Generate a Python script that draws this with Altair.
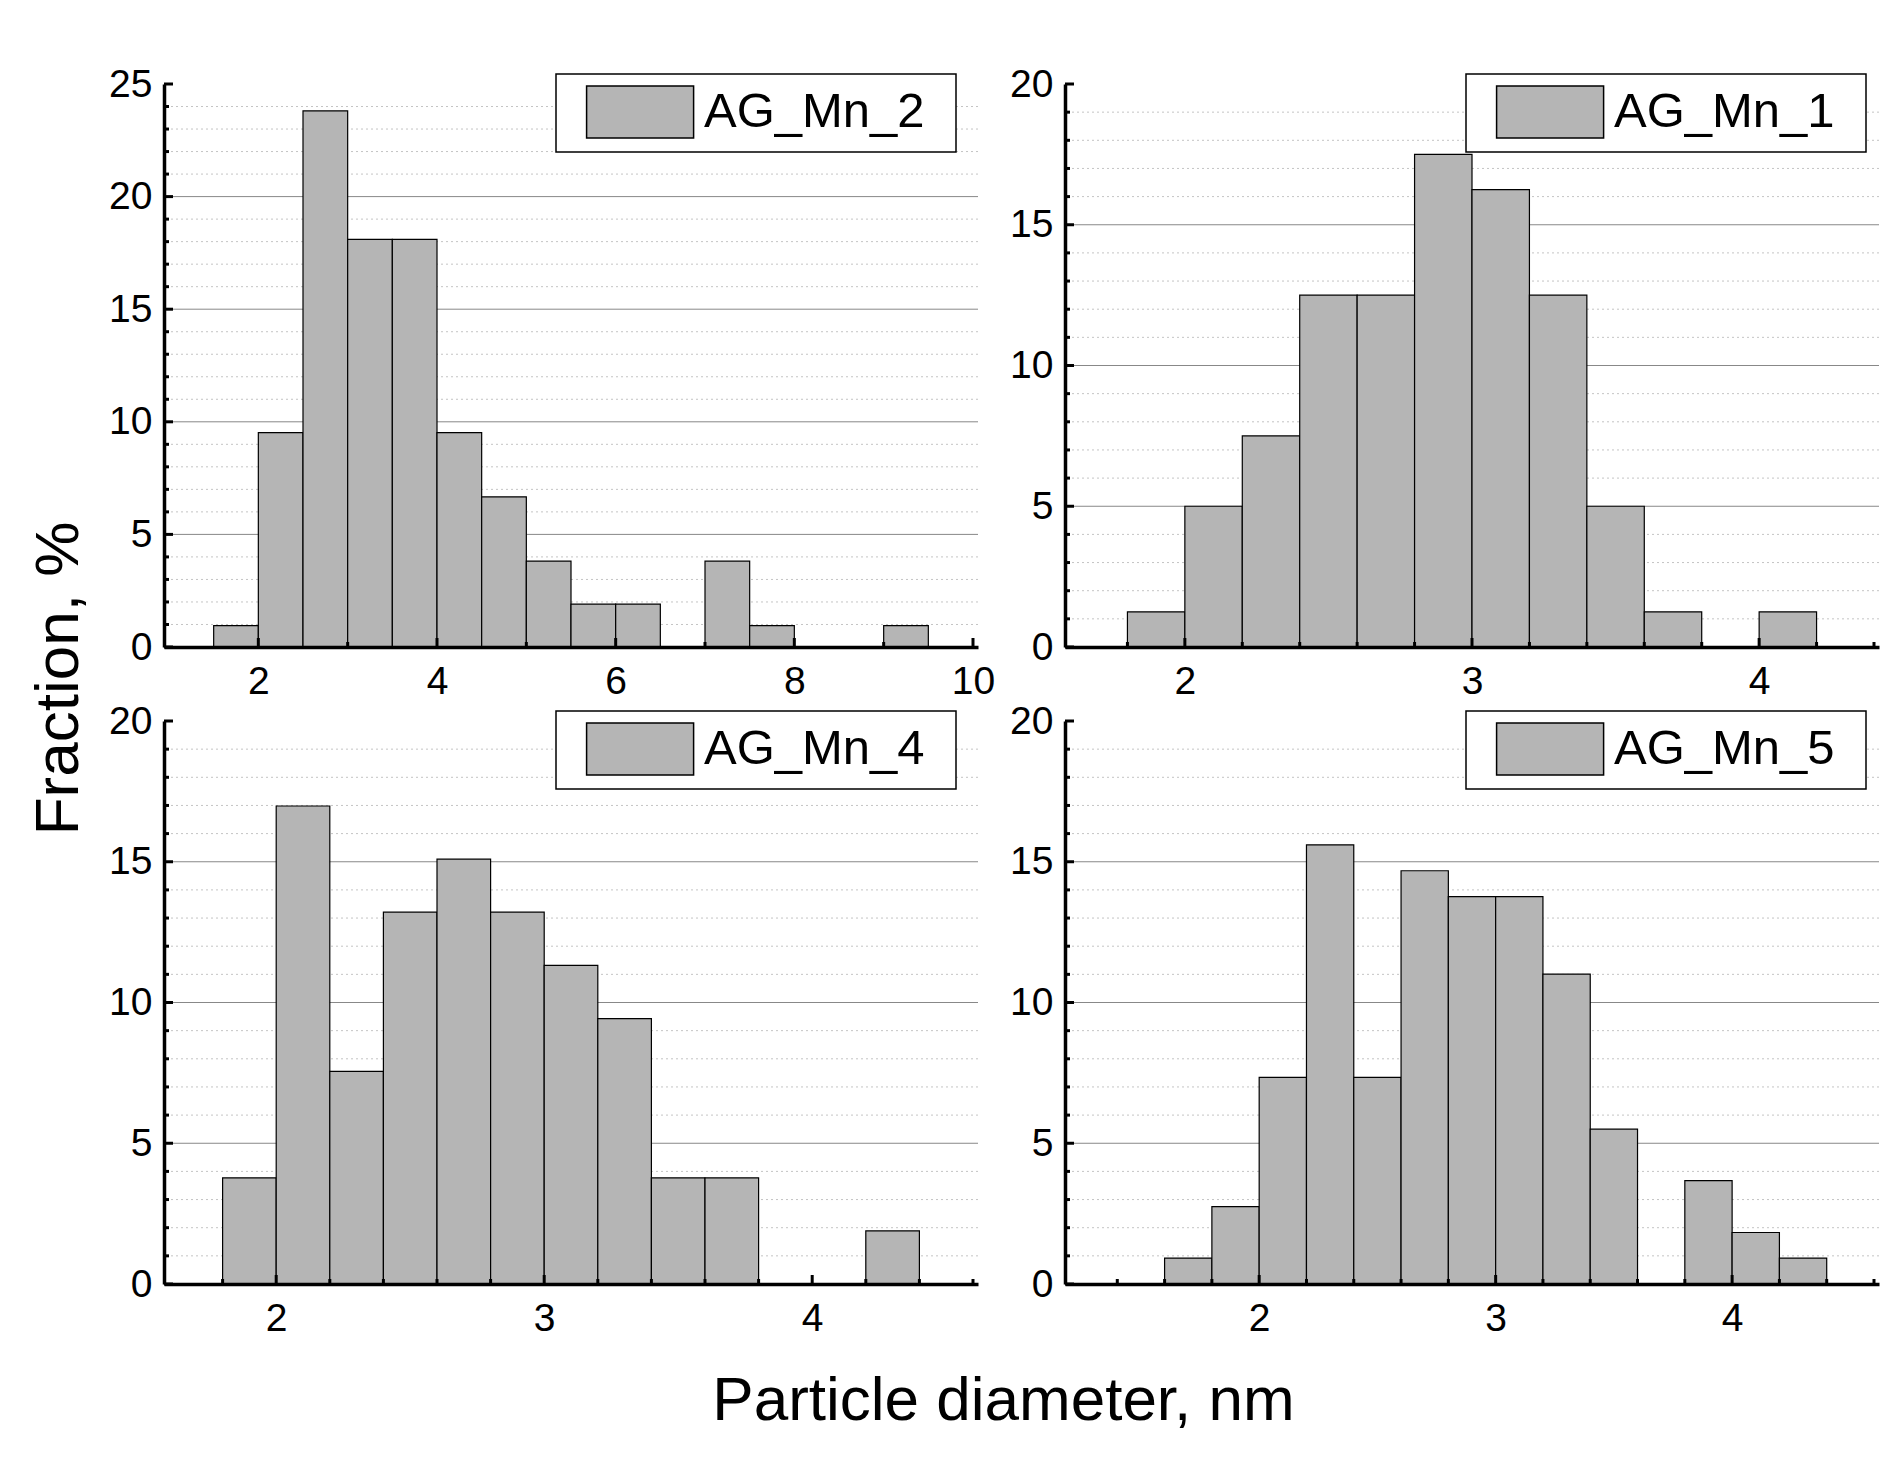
import altair as alt
import pandas as pd

FONT = "Liberation Sans, Arial, Helvetica, sans-serif"
BAR_FILL = "#b5b5b5"

# ---------------- data ----------------
# AG_Mn_2  (bin width 0.5 nm)
mn2_bin_left = [1.5, 2.0, 2.5, 3.0, 3.5, 4.0, 4.5, 5.0, 5.5, 6.0, 7.0, 7.5, 9.0]
mn2_fraction = [0.95, 9.52, 23.81, 18.10, 18.10, 9.52, 6.67, 3.81, 1.90, 1.90, 3.81, 0.95, 0.95]
mn2_bin_width = 0.5

# AG_Mn_1  (bin width 0.2 nm)
mn1_bin_left = [1.8, 2.0, 2.2, 2.4, 2.6, 2.8, 3.0, 3.2, 3.4, 3.6, 4.0]
mn1_fraction = [1.25, 5.0, 7.5, 12.5, 12.5, 17.5, 16.25, 12.5, 5.0, 1.25, 1.25]
mn1_bin_width = 0.2

# AG_Mn_4  (bin width 0.2 nm)
mn4_bin_left = [1.8, 2.0, 2.2, 2.4, 2.6, 2.8, 3.0, 3.2, 3.4, 3.6, 4.2]
mn4_fraction = [3.77, 16.98, 7.55, 13.21, 15.09, 13.21, 11.32, 9.43, 3.77, 3.77, 1.89]
mn4_bin_width = 0.2

# AG_Mn_5  (bin width 0.2 nm)
mn5_bin_left = [1.6, 1.8, 2.0, 2.2, 2.4, 2.6, 2.8, 3.0, 3.2, 3.4, 3.8, 4.0, 4.2]
mn5_fraction = [0.92, 2.75, 7.34, 15.60, 7.34, 14.68, 13.76, 13.76, 11.01, 5.50, 3.67, 1.83, 0.92]
mn5_bin_width = 0.2

# axis tick values
mn2_x_labels = [2, 4, 6, 8, 10]
mn2_x_minor = [3, 5, 7, 9]
short_x_labels = [2, 3, 4]
mn1_x_minor = [1.8, 2.2, 2.4, 2.6, 2.8, 3.2, 3.4, 3.6, 3.8, 4.2, 4.4]
mn4_x_minor = [1.8, 2.2, 2.4, 2.6, 2.8, 3.2, 3.4, 3.6, 3.8, 4.2, 4.4, 4.6]
mn5_x_minor = [1.4, 1.6, 1.8, 2.2, 2.4, 2.6, 2.8, 3.2, 3.4, 3.6, 3.8, 4.2, 4.4, 4.6]

y25_major = [0, 5, 10, 15, 20, 25]
y20_major = [0, 5, 10, 15, 20]
y25_minor = [v for v in range(1, 25) if v % 5]
y20_minor = [v for v in range(1, 20) if v % 5]

X_TITLE = "Particle diameter, nm"
Y_TITLE = "Fraction, %"

W, H = 814, 563

# legend swatch: 107 x 52 px rectangle (size 52^2 -> unit = 26 px); the trailing
# zero-length move only widens the legend frame on the right, it draws nothing.
SWATCH_PATH = "M-2.058,-1H2.058V1H-2.058Z M11.61,0Z"


def panel(name, lefts, fracs, bw, xdom, xlabels, xminor, ymax, ymajor, yminor, legx,
          with_titles=False):
    bars_df = pd.DataFrame({
        "left": lefts,
        "right": [round(l + bw, 3) for l in lefts],
        "fraction": fracs,
        "series": [name] * len(lefts),
    })
    xs = alt.Scale(domain=xdom, nice=False, zero=False)
    ys = alt.Scale(domain=[0, ymax], nice=False)

    if with_titles:
        x_title_kw = dict(title=X_TITLE, titleX=839, titleY=135, titleAlign="center",
                          titleBaseline="alphabetic", titleFont=FONT, titleFontSize=62,
                          titleFontWeight="normal", titleColor="black", titleAngle=0)
        y_title_kw = dict(title=Y_TITLE, titleX=-87, titleY=-43, titleAlign="center",
                          titleBaseline="alphabetic", titleFont=FONT, titleFontSize=62,
                          titleFontWeight="normal", titleColor="black", titleAngle=270)
    else:
        x_title_kw = dict(title=None)
        y_title_kw = dict(title=None)

    x_axis = alt.Axis(
        values=xlabels, grid=False, tickSize=0, labelPadding=15,
        labelFontSize=39, labelFont=FONT, labelColor="black",
        domainColor="black", domainWidth=3.5, zindex=2, labelFlush=False,
        **x_title_kw,
    )
    y_axis = alt.Axis(
        values=ymajor, grid=False, tickSize=0, labelPadding=12,
        labelFontSize=39, labelFont=FONT, labelColor="black",
        domainColor="black", domainWidth=3.5, zindex=2, labelFlush=False,
        **y_title_kw,
    )

    grid_major = alt.Chart(pd.DataFrame({"v": [v for v in ymajor if 0 < v < ymax]})).mark_rule(
        color="#888888", strokeWidth=1
    ).encode(y=alt.Y("v:Q", scale=ys, axis=y_axis))
    grid_minor = alt.Chart(pd.DataFrame({"v": yminor})).mark_rule(
        color="#c4c4c4", strokeWidth=1, strokeDash=[2, 3]
    ).encode(y=alt.Y("v:Q", scale=ys, axis=y_axis))

    bars = alt.Chart(bars_df).mark_bar(
        stroke="black", strokeWidth=1.2, fill=BAR_FILL, opacity=1, orient="vertical"
    ).encode(
        x=alt.X("left:Q", scale=xs, axis=x_axis),
        x2="right:Q",
        y=alt.Y("fraction:Q", scale=ys, axis=y_axis),
        y2=alt.datum(0),
        color=alt.Color("series:N", scale=alt.Scale(range=[BAR_FILL]), legend=alt.Legend(
            title=None, orient="none", legendX=legx, legendY=-10,
            symbolType=SWATCH_PATH, symbolSize=52 * 52,
            symbolStrokeColor="black", symbolStrokeWidth=1.5, symbolFillColor=BAR_FILL,
            symbolOpacity=1, symbolOffset=46.1, labelOffset=36.9,
            labelFont=FONT, labelFontSize=49, labelColor="black", labelLimit=600,
            padding=11, strokeColor="black", fillColor="white",
        )),
    )

    xt_major = alt.Chart(pd.DataFrame({"v": xlabels})).mark_rule(
        color="black", strokeWidth=3
    ).encode(x=alt.X("v:Q", scale=xs, axis=x_axis), y=alt.value(H), y2=alt.value(H - 9))
    xt_minor = alt.Chart(pd.DataFrame({"v": xminor})).mark_rule(
        color="black", strokeWidth=3
    ).encode(x=alt.X("v:Q", scale=xs, axis=x_axis), y=alt.value(H), y2=alt.value(H - 5))
    yt_major = alt.Chart(pd.DataFrame({"v": ymajor})).mark_rule(
        color="black", strokeWidth=3
    ).encode(y=alt.Y("v:Q", scale=ys, axis=y_axis), x=alt.value(0), x2=alt.value(9))
    yt_minor = alt.Chart(pd.DataFrame({"v": yminor})).mark_rule(
        color="black", strokeWidth=3
    ).encode(y=alt.Y("v:Q", scale=ys, axis=y_axis), x=alt.value(0), x2=alt.value(5))

    return alt.layer(grid_minor, grid_major, bars, xt_major, xt_minor, yt_major, yt_minor).properties(
        width=W, height=H
    )


p1 = panel("AG_Mn_2", mn2_bin_left, mn2_fraction, mn2_bin_width, [1, 10],
           mn2_x_labels, mn2_x_minor, 25, y25_major, y25_minor, 392)
p2 = panel("AG_Mn_1", mn1_bin_left, mn1_fraction, mn1_bin_width, [1.6, 4.4],
           short_x_labels, mn1_x_minor, 20, y20_major, y20_minor, 401)
p3 = panel("AG_Mn_4", mn4_bin_left, mn4_fraction, mn4_bin_width, [1.6, 4.6],
           short_x_labels, mn4_x_minor, 20, y20_major, y20_minor, 392, with_titles=True)
p4 = panel("AG_Mn_5", mn5_bin_left, mn5_fraction, mn5_bin_width, [1.2, 4.6],
           short_x_labels, mn5_x_minor, 20, y20_major, y20_minor, 401)

chart = alt.concat(
    p1, p2, p3, p4, columns=2, spacing={"row": 74, "column": 87}, bounds="flush",
).resolve_scale(
    color="independent", x="independent", y="independent"
).resolve_legend(color="independent").properties(
    padding={"left": 26, "top": 65, "right": 5, "bottom": 5},
    background="white",
).configure_view(stroke=None).configure_legend(strokeWidth=1.5)

chart.save("out.html", embed_options={"renderer": "svg", "actions": False})
